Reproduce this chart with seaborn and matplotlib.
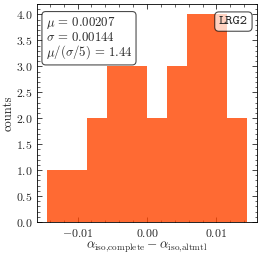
import numpy as np
import matplotlib
matplotlib.use('Agg')
import matplotlib.pyplot as plt
from matplotlib.ticker import MultipleLocator, AutoMinorLocator
import seaborn as sns

# histogram of alpha_iso differences
bin_edges = [-0.01435, -0.01148, -0.00861, -0.00574, -0.00287, 0.0,
             0.00287, 0.00574, 0.00861, 0.01148, 0.01435]
counts = [1, 1, 2, 3, 3, 2, 3, 4, 4, 2]
stats_text = [r'$\mu \,=\, 0.00207$', r'$\sigma \,=\, 0.00144$',
              r'$\mu/(\sigma/5) \,=\, 1.44$']
tracer = 'LRG2'

sns.set_style('ticks')
plt.rcParams.update({
    'font.family': 'serif',
    'font.serif': ['cmr10', 'DejaVu Serif'],
    'font.monospace': ['cmtt10', 'DejaVu Sans Mono'],
    'mathtext.fontset': 'cm',
    'axes.formatter.use_mathtext': True,
    'axes.unicode_minus': True,
    'axes.linewidth': 0.6,
    'axes.edgecolor': 'black',
    'xtick.direction': 'in',
    'ytick.direction': 'in',
    'xtick.top': True,
    'ytick.right': True,
    'xtick.major.size': 3.5,
    'ytick.major.size': 3.5,
    'xtick.minor.size': 1.8,
    'ytick.minor.size': 1.8,
    'xtick.major.width': 0.6,
    'ytick.major.width': 0.6,
    'xtick.minor.width': 0.5,
    'ytick.minor.width': 0.5,
    'xtick.minor.visible': True,
    'ytick.minor.visible': True,
    'xtick.labelsize': 8.5,
    'ytick.labelsize': 8.5,
    'axes.labelsize': 9,
})

centers = 0.5 * (np.array(bin_edges[:-1]) + np.array(bin_edges[1:]))

fig = plt.figure(figsize=(2.61, 2.56), dpi=100)
ax = fig.add_axes([0.143, 0.133, 0.8405, 0.851])

sns.histplot(x=centers, weights=counts, bins=bin_edges, color='orangered',
             alpha=0.8, linewidth=0, edgecolor='none', ax=ax)

ax.xaxis.set_major_locator(MultipleLocator(0.01))
ax.xaxis.set_minor_locator(AutoMinorLocator(5))
ax.yaxis.set_major_locator(MultipleLocator(0.5))
ax.yaxis.set_minor_locator(AutoMinorLocator(5))
ax.set_ylabel('counts', labelpad=0.5)
ax.set_xlabel(r'$\alpha_{\mathrm{iso{,}complete}} - \alpha_{\mathrm{iso{,}altmtl}}$',
              labelpad=0.5, fontsize=9.5)

box = dict(boxstyle='round', facecolor='white', edgecolor='black', alpha=0.7,
           linewidth=0.8)
ax.text(0.0385, 0.95, '\n'.join(stats_text), transform=ax.transAxes,
        ha='left', va='top', fontsize=9.2, linespacing=0.97, bbox=box,
        zorder=5)
ax.text(0.96, 0.945, tracer, transform=ax.transAxes, ha='right', va='top',
        family='monospace', fontsize=10, bbox=box, zorder=5)

fig.savefig('out.png', dpi=100)
